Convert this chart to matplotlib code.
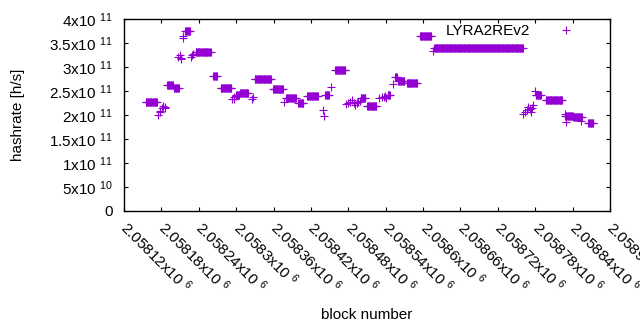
#!/usr/bin/env python3
"""
LYRA2REv2 hashrate per block, gnuplot-like look
"""

import numpy as np
import matplotlib
matplotlib.use("Agg")
import matplotlib.pyplot as plt
import matplotlib.transforms as mtransforms

plt.rcParams['font.family'] = ['Liberation Sans', 'DejaVu Sans']
plt.rcParams['mathtext.default'] = 'regular'

# Runs of consecutive blocks with the same hashrate: first block, last block, h/s
run_start = [2058155, 2058189, 2058200, 2058218, 2058235, 2058263, 2058275,
             2058300, 2058306, 2058330, 2058359, 2058380, 2058400, 2058414,
             2058443, 2058459, 2058500, 2058510, 2058543, 2058555, 2058560,
             2058574, 2058595, 2058618, 2058781, 2058797, 2058828, 2058841,
             2058865]
run_end = [2058173, 2058198, 2058208, 2058226, 2058259, 2058269, 2058292,
           2058305, 2058319, 2058356, 2058375, 2058396, 2058408, 2058431,
           2058449, 2058475, 2058507, 2058525, 2058547, 2058558, 2058570,
           2058590, 2058613, 2058760, 2058789, 2058823, 2058840, 2058855,
           2058873]
run_rate = [2.27e11, 2.62e11, 2.57e11, 3.75e11, 3.31e11, 2.81e11, 2.56e11,
            2.42e11, 2.45e11, 2.75e11, 2.54e11, 2.35e11, 2.24e11, 2.40e11,
            2.42e11, 2.94e11, 2.35e11, 2.19e11, 2.42e11, 2.80e11, 2.71e11,
            2.66e11, 3.65e11, 3.39e11, 2.42e11, 2.31e11, 1.97e11, 1.95e11,
            1.83e11]

# Scattered single blocks
single_block = [2058175, 2058177, 2058178, 2058181, 2058183, 2058185, 2058186,
                2058207, 2058210, 2058211, 2058212, 2058214, 2058215,
                2058227, 2058229, 2058231,
                2058294, 2058296, 2058297, 2058299, 2058325, 2058327,
                2058377, 2058439, 2058441, 2058453,
                2058477, 2058480, 2058483, 2058486, 2058489, 2058491, 2058494,
                2058496, 2058499,
                2058530, 2058534, 2058537, 2058539, 2058541, 2058551,
                2058616,
                2058761, 2058763, 2058766, 2058769, 2058771, 2058773, 2058775,
                2058777, 2058780, 2058827, 2058830, 2058853]
single_rate = [2.01e11, 2.07e11, 2.09e11, 2.14e11, 2.19e11, 2.14e11, 2.16e11,
               3.21e11, 3.25e11, 3.19e11, 3.16e11, 3.61e11, 3.65e11,
               3.21e11, 3.24e11, 3.27e11,
               2.33e11, 2.33e11, 2.38e11, 2.40e11, 2.33e11, 2.37e11,
               2.28e11, 2.10e11, 1.98e11, 2.59e11,
               2.23e11, 2.26e11, 2.27e11, 2.31e11, 2.24e11, 2.21e11, 2.26e11,
               2.28e11, 2.30e11,
               2.35e11, 2.38e11, 2.37e11, 2.39e11, 2.36e11, 2.65e11,
               3.33e11,
               2.03e11, 2.07e11, 2.10e11, 2.16e11, 2.13e11, 2.06e11, 2.15e11,
               2.21e11, 2.49e11, 2.03e11, 1.86e11, 1.88e11]

x_ticks = [2058120, 2058180, 2058240, 2058300, 2058360, 2058420, 2058480,
           2058540, 2058600, 2058660, 2058720, 2058780, 2058840, 2058900]
x_labels = ['2.05812', '2.05818', '2.05824', '2.0583', '2.05836', '2.05842',
            '2.05848', '2.05854', '2.0586', '2.05866', '2.05872', '2.05878',
            '2.05884', '2.0589']
y_ticks = [0, 5e10, 1e11, 1.5e11, 2e11, 2.5e11, 3e11, 3.5e11, 4e11]
y_labels = ['0', '5x10 $^{10}$', '1x10 $^{11}$', '1.5x10 $^{11}$', '2x10 $^{11}$',
            '2.5x10 $^{11}$', '3x10 $^{11}$', '3.5x10 $^{11}$', '4x10 $^{11}$']

COLOR = '#9400d3'
FS = 11

# expand the runs into one point per block
blocks = []
rates = []
for s, e, r in zip(run_start, run_end, run_rate):
    b = np.arange(s, e + 1)
    blocks.extend(b)
    rates.extend([r] * len(b))
blocks.extend(single_block)
rates.extend(single_rate)

fig = plt.figure(figsize=(6.4, 3.3), dpi=100)
ax = fig.add_axes([124 / 640, 1 - 211 / 330, 486 / 640, 192 / 330])

ax.plot(blocks, rates, linestyle='none', marker='+', color=COLOR,
        markersize=5.5, markeredgewidth=0.8, label='LYRA2REv2')

ax.set_xlim(2058120, 2058900)
ax.set_ylim(0, 4e11)

ax.set_xticks(x_ticks)
ax.set_xticklabels([l + 'x10 $^{6}$' for l in x_labels], rotation=-45,
                   ha='left', va='center', rotation_mode='anchor', fontsize=FS)
# gnuplot puts the rotated labels a bit right of the tick
shift = mtransforms.ScaledTranslation(5 / 100, 0, fig.dpi_scale_trans)
for lab in ax.get_xticklabels():
    lab.set_transform(lab.get_transform() + shift)

ax.set_yticks(y_ticks)
ax.set_yticklabels(y_labels, fontsize=FS)

ax.tick_params(direction='in', length=3, width=0.8, top=True, right=True,
               labeltop=False, labelright=False)
ax.tick_params(axis='x', pad=10)
ax.tick_params(axis='y', pad=8)
for sp in ax.spines.values():
    sp.set_linewidth(1.0)

ax.set_xlabel('block number', fontsize=FS)
ax.xaxis.set_label_coords(0.5, -0.505)
ax.set_ylabel('hashrate [h/s]', fontsize=FS)
ax.yaxis.set_label_coords(-0.203, 0.5)

ax.legend(loc='center right', bbox_to_anchor=(0.94, 0.9375), frameon=False,
          markerfirst=False, numpoints=1, handlelength=2, handletextpad=1.3,
          borderpad=0, borderaxespad=0, fontsize=FS)

fig.savefig('out.png', dpi=100)
